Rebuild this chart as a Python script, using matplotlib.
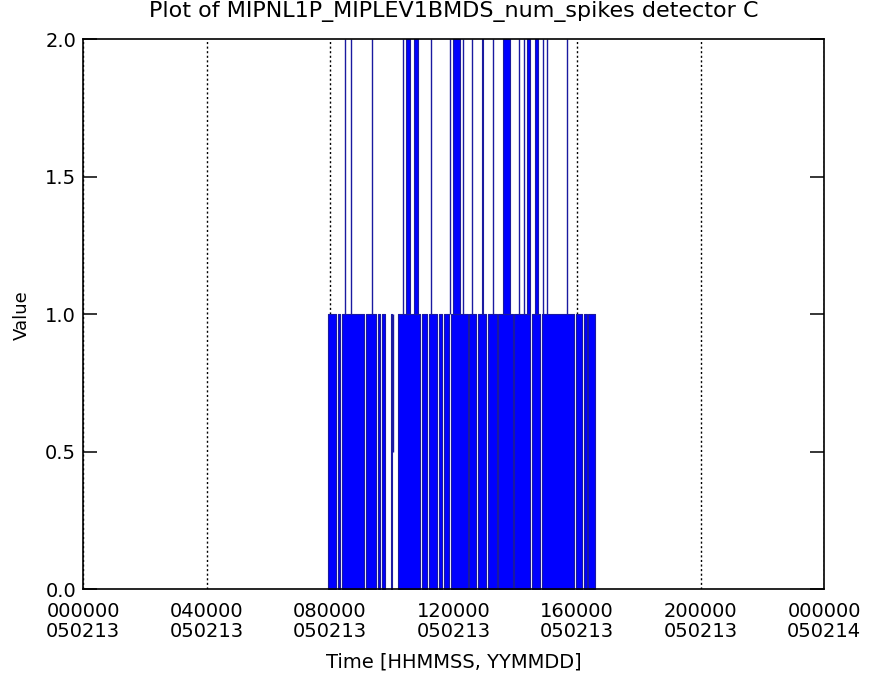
import matplotlib
matplotlib.use("Agg")
import matplotlib.pyplot as plt

# time in hours since 000000 050213
tick_hours = [0, 4, 8, 12, 16, 20, 24]
tick_labels = ["000000\n050213", "040000\n050213", "080000\n050213",
               "120000\n050213", "160000\n050213", "200000\n050213",
               "000000\n050214"]

# stretches where the value flips quickly between 0 and 1 (start, end)
band_start = [7.945, 8.243, 8.373, 9.159, 9.538, 9.668, 9.966, 10.186,
              10.964, 11.190, 11.524, 11.686, 11.903, 12.502, 12.777,
              13.101, 13.441, 13.960, 14.526, 14.850, 15.961, 16.211, 16.356]
band_end = [8.194, 8.324, 9.111, 9.490, 9.619, 9.781, 10.000, 10.915,
            11.126, 11.475, 11.637, 11.838, 12.453, 12.729, 13.053,
            13.393, 13.911, 14.478, 14.802, 15.913, 16.162, 16.308, 16.583]

# spikes up to 2 (start, end); start == end is a single spike
spike_start = [8.486, 8.670, 9.370, 10.374, 10.47, 10.73, 11.271, 11.887,
               11.99, 12.298, 12.59, 12.92, 13.27, 13.59, 14.13, 14.28,
               14.39, 14.64, 14.91, 15.02, 15.69]
spike_end = [8.486, 8.670, 9.370, 10.374, 10.59, 10.86, 11.271, 11.887,
             12.21, 12.298, 12.59, 12.97, 13.27, 13.83, 14.13, 14.28,
             14.48, 14.72, 14.91, 15.02, 15.69]

# one lone sample at 0.5
half_time = [10.05]
half_value = [0.5]

blue = "#0000ff"
edge = "#1a1aa0"

fig = plt.figure(figsize=(8.73, 6.75), dpi=100)
ax = fig.add_axes([0.0951, 0.1274, 0.8488, 0.8148])

for s, e in zip(band_start, band_end):
    ax.fill_between([s, e], [0, 0], [1, 1], color=blue, edgecolor=edge,
                    linewidth=0.8)

for s, e in zip(spike_start, spike_end):
    if e - s < 0.01:
        ax.vlines(s, 1, 2, color=edge, linewidth=1.0)
    else:
        ax.fill_between([s, e], [1, 1], [2, 2], color=blue, edgecolor=edge,
                        linewidth=0.8)

ax.vlines(half_time, half_value, 1, color=edge, linewidth=1.0)

ax.set_xlim(0, 24)
ax.set_ylim(0, 2)
ax.set_xticks(tick_hours)
ax.set_xticklabels(tick_labels, fontsize=14, linespacing=1.05)
ax.set_yticks([0.0, 0.5, 1.0, 1.5, 2.0])
ax.set_yticklabels(["0.0", "0.5", "1.0", "1.5", "2.0"], fontsize=14)

ax.tick_params(axis="x", length=0, pad=9.5)
ax.tick_params(axis="y", direction="in", length=10, width=1.1, pad=5,
               right=True)

# dotted time grid sits under the data
ax.xaxis.grid(True, color="black", linestyle=(0, (1.5, 1.8)), linewidth=1.0)
ax.set_axisbelow(True)

for sp in ax.spines.values():
    sp.set_linewidth(1.2)
    sp.set_color("black")
    sp.set_zorder(3)

ax.set_title("Plot of MIPNL1P_MIPLEV1BMDS_num_spikes detector C",
             fontsize=16, y=1.0345, va="center")

ax.set_xlabel("Time [HHMMSS, YYMMDD]", fontsize=14)
ax.xaxis.label.set_verticalalignment("center")
ax.xaxis.set_label_coords(0.5, -0.1327)

ax.set_ylabel("Value", fontsize=13)
ax.yaxis.label.set_verticalalignment("center")
ax.yaxis.set_label_coords(-0.0823, 0.498)

fig.savefig("out.png", dpi=100)
